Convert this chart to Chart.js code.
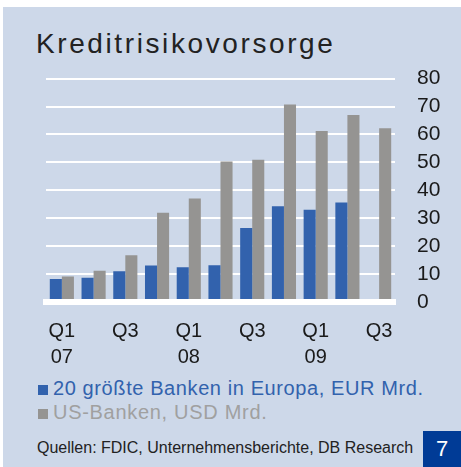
<!DOCTYPE html>
<html>
<head>
<meta charset="utf-8">
<script src="https://cdn.jsdelivr.net/npm/chart.js@4/dist/chart.umd.min.js"></script>
<style>
    html, body { margin: 0; padding: 0; background: #fff; }
    body { width: 461px; height: 467px; position: relative; overflow: hidden; font-family: "Liberation Sans", Arial, sans-serif; }
    #panel { position: absolute; left: 3px; top: 7px; right: 0; bottom: 0; background: #cdd8e9; }
    #title { position: absolute; left: 36px; top: 28px; font-size: 28px; letter-spacing: 2.6px; color: #222; white-space: nowrap; }
    #chartBox { position: absolute; left: 0; top: 44px; width: 461px; height: 326px; }
    .legend { position: absolute; left: 38px; font-size: 20px; white-space: nowrap; }
    .legend span { display: inline-block; width: 10px; height: 10px; margin-right: 5px; }
    #source { position: absolute; left: 37px; top: 439px; font-size: 16px; color: #222; white-space: nowrap; }
    #page { position: absolute; left: 423px; top: 431px; width: 38px; height: 36px; background: #003b96; color: #fff; font-size: 22px; text-align: center; line-height: 36px; }
</style>
</head>
<body>
<div id="panel"></div>
<div id="title">Kreditrisikovorsorge</div>
<div id="chartBox"><canvas id="barGraph" width="461" height="326"></canvas></div>
<div class="legend" style="top:377px;color:#3262ad;letter-spacing:0.6px"><span style="background:#3262ad"></span>20 größte Banken in Europa, EUR Mrd.</div>
<div class="legend" style="top:401px;color:#a0a0a0;letter-spacing:0.7px"><span style="background:#959492"></span>US-Banken, USD Mrd.</div>
<div id="source">Quellen: FDIC, Unternehmensberichte, DB Research</div>
<div id="page">7</div>

<script>
const labels = [
    ['Q1', '07'], '', 'Q3', '',
    ['Q1', '08'], '', 'Q3', '',
    ['Q1', '09'], '', 'Q3'
];
const europeValues = [8.2, 8.7, 11.0, 13.1, 12.4, 13.2, 26.5, 34.3, 33.0, 35.6, null];
const usValues = [9.1, 11.2, 16.7, 32.0, 37.1, 50.3, 50.9, 70.7, 61.2, 67.0, 62.2];
const yTicks = [0, 10, 20, 30, 40, 50, 60, 70, 80];

let chart;

document.addEventListener('DOMContentLoaded', () => {
    const ctx = document.getElementById("barGraph").getContext("2d");
    const data = {
        labels: labels,
        datasets: [
            {
                label: '20 größte Banken in Europa, EUR Mrd.',
                data: europeValues,
                backgroundColor: '#3262ad'
            },
            {
                label: 'US-Banken, USD Mrd.',
                data: usValues,
                backgroundColor: '#959492'
            }
        ]
    };
    const fontFamily = '"Liberation Sans", Arial, sans-serif';
    const config = {
        type: 'bar',
        data: data,
        options: {
            responsive: false,
            animation: false,
            categoryPercentage: 0.76,
            barPercentage: 1,
            layout: {
                padding: { left: 46, right: 0, top: 1, bottom: 0 }
            },
            scales: {
                x: {
                    grid: { display: false, drawTicks: false },
                    border: { display: true, color: '#ffffff', width: 6, z: 1 },
                    ticks: {
                        color: '#1a1a1a',
                        font: { family: fontFamily, size: 20, lineHeight: 1.3 },
                        padding: 16,
                        maxRotation: 0,
                        autoSkip: false
                    },
                    afterFit: (axis) => { axis.height = 68; }
                },
                y: {
                    position: 'right',
                    min: yTicks[0],
                    max: yTicks[yTicks.length - 1],
                    afterBuildTicks: (axis) => {
                        axis.ticks = yTicks.map(v => ({ value: v }));
                    },
                    grid: {
                        color: '#ffffff',
                        lineWidth: 2,
                        drawTicks: false
                    },
                    border: { display: false },
                    ticks: {
                        color: '#1a1a1a',
                        font: { family: fontFamily, size: 21 },
                        padding: 22,
                        autoSkip: false
                    },
                    afterFit: (axis) => { axis.width = 66; }
                }
            },
            plugins: {
                legend: { display: false },
                tooltip: { enabled: false }
            }
        }
    };
    chart = new Chart(ctx, config);
});
</script>
</body>
</html>
